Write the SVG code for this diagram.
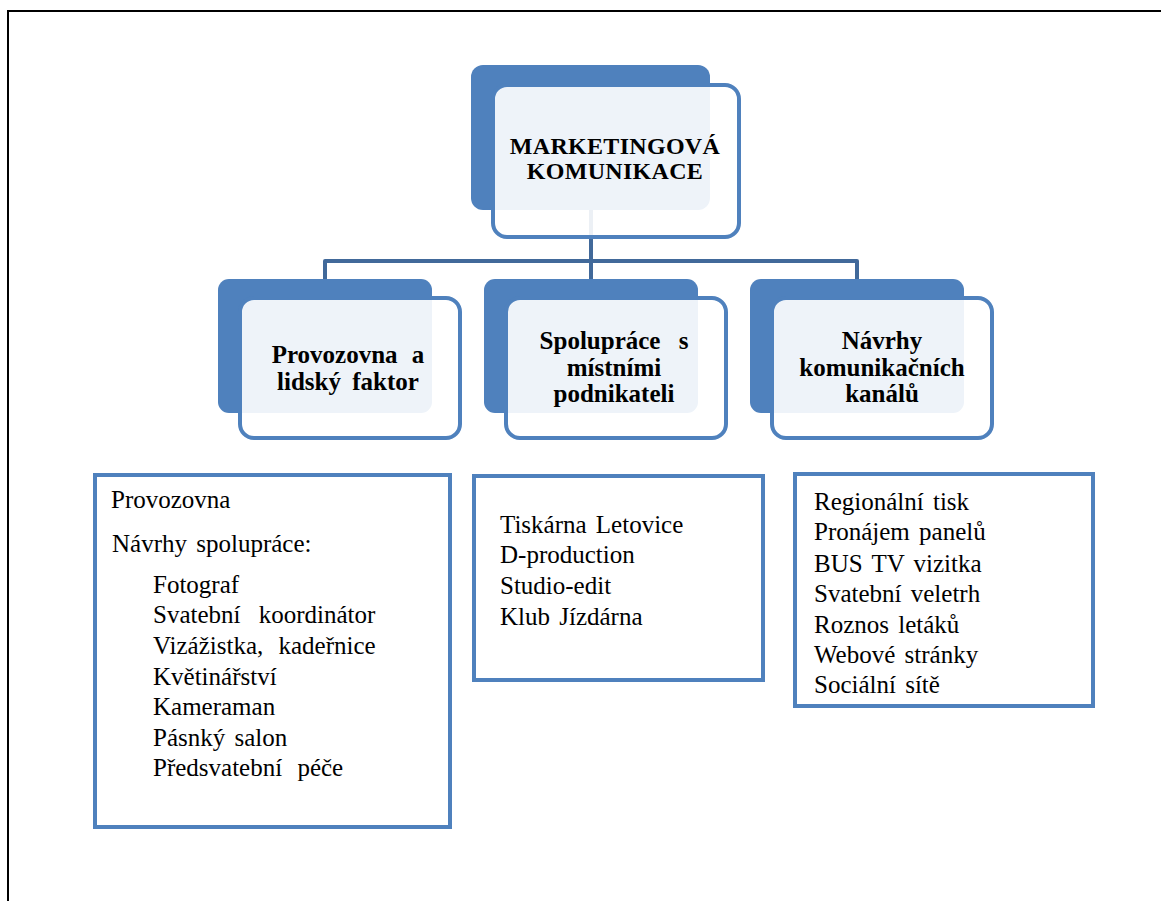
<svg xmlns="http://www.w3.org/2000/svg" width="1161" height="901" viewBox="0 0 1161 901">
<style>
.dark{fill:#4F81BD}
.lite{fill:#FFFFFF;fill-opacity:0.9;stroke:#4F81BD;stroke-width:4}
.box{fill:#FFFFFF;stroke:#4F81BD;stroke-width:4}
.conn{fill:none;stroke:#41699A;stroke-width:4;stroke-linejoin:round}
.h{font-family:"Liberation Serif","Times New Roman",serif;font-weight:bold;font-size:25px;fill:#000;text-anchor:middle;word-spacing:5px}
.h1{font-size:24px;letter-spacing:0.3px}
.t{font-family:"Liberation Serif","Times New Roman",serif;font-size:25px;fill:#000;word-spacing:3px}
</style>
<rect width="1161" height="901" fill="#FFFFFF"/>
<path d="M8,903 V11 H1163" fill="none" stroke="#000" stroke-width="2"/>
<g id="connectors">
<path class="conn" d="M591,210 V281"/>
<path class="conn" d="M325,281 V261 H857 V281"/>
</g>
<g id="n-top">
<rect class="dark" x="471" y="65" width="239" height="145" rx="12"/>
<rect class="lite" x="493" y="85" width="246" height="152" rx="14"/>
<text class="h h1" x="615" y="154">MARKETINGOVÁ</text>
<text class="h h1" x="615" y="179">KOMUNIKACE</text>
</g>
<g id="n-provozovna">
<rect class="dark" x="218" y="279" width="214" height="134" rx="11"/>
<rect class="lite" x="240" y="298" width="220" height="140" rx="14"/>
<text class="h" x="348" y="363" style="word-spacing:8px">Provozovna a</text>
<text class="h" x="348" y="390">lidský faktor</text>
</g>
<g id="n-spoluprace">
<rect class="dark" x="484" y="279" width="214" height="134" rx="11"/>
<rect class="lite" x="506" y="298" width="220" height="140" rx="14"/>
<text class="h" x="614" y="349" style="word-spacing:12px">Spolupráce s</text>
<text class="h" x="614" y="376">místními</text>
<text class="h" x="614" y="402">podnikateli</text>
</g>
<g id="n-navrhy">
<rect class="dark" x="750" y="279" width="214" height="134" rx="11"/>
<rect class="lite" x="772" y="298" width="220" height="140" rx="14"/>
<text class="h" x="882" y="349">Návrhy</text>
<text class="h" x="882" y="376">komunikačních</text>
<text class="h" x="882" y="402">kanálů</text>
</g>
<g id="list-provozovna">
<rect class="box" x="95" y="475" width="355" height="352"/>
<text class="t" x="111" y="508">Provozovna</text>
<text class="t" x="112" y="552">Návrhy spolupráce:</text>
<text class="t" x="153" y="593">Fotograf</text>
<text class="t" x="153" y="623" style="word-spacing:12px">Svatební koordinátor</text>
<text class="t" x="153" y="654" style="word-spacing:9px">Vizážistka, kadeřnice</text>
<text class="t" x="153" y="685">Květinářství</text>
<text class="t" x="153" y="715">Kameraman</text>
<text class="t" x="153" y="746">Pásnký salon</text>
<text class="t" x="153" y="776" style="word-spacing:9px">Předsvatební péče</text>
</g>
<g id="list-spoluprace">
<rect class="box" x="474" y="476" width="289" height="204"/>
<text class="t" x="500" y="533">Tiskárna Letovice</text>
<text class="t" x="500" y="563">D-production</text>
<text class="t" x="500" y="594">Studio-edit</text>
<text class="t" x="500" y="625">Klub Jízdárna</text>
</g>
<g id="list-navrhy">
<rect class="box" x="795" y="474" width="298" height="232"/>
<text class="t" x="814" y="510">Regionální tisk</text>
<text class="t" x="814" y="540">Pronájem panelů</text>
<text class="t" x="814" y="572">BUS TV vizitka</text>
<text class="t" x="814" y="602">Svatební veletrh</text>
<text class="t" x="814" y="633">Roznos letáků</text>
<text class="t" x="814" y="663">Webové stránky</text>
<text class="t" x="814" y="693">Sociální sítě</text>
</g>
</svg>
